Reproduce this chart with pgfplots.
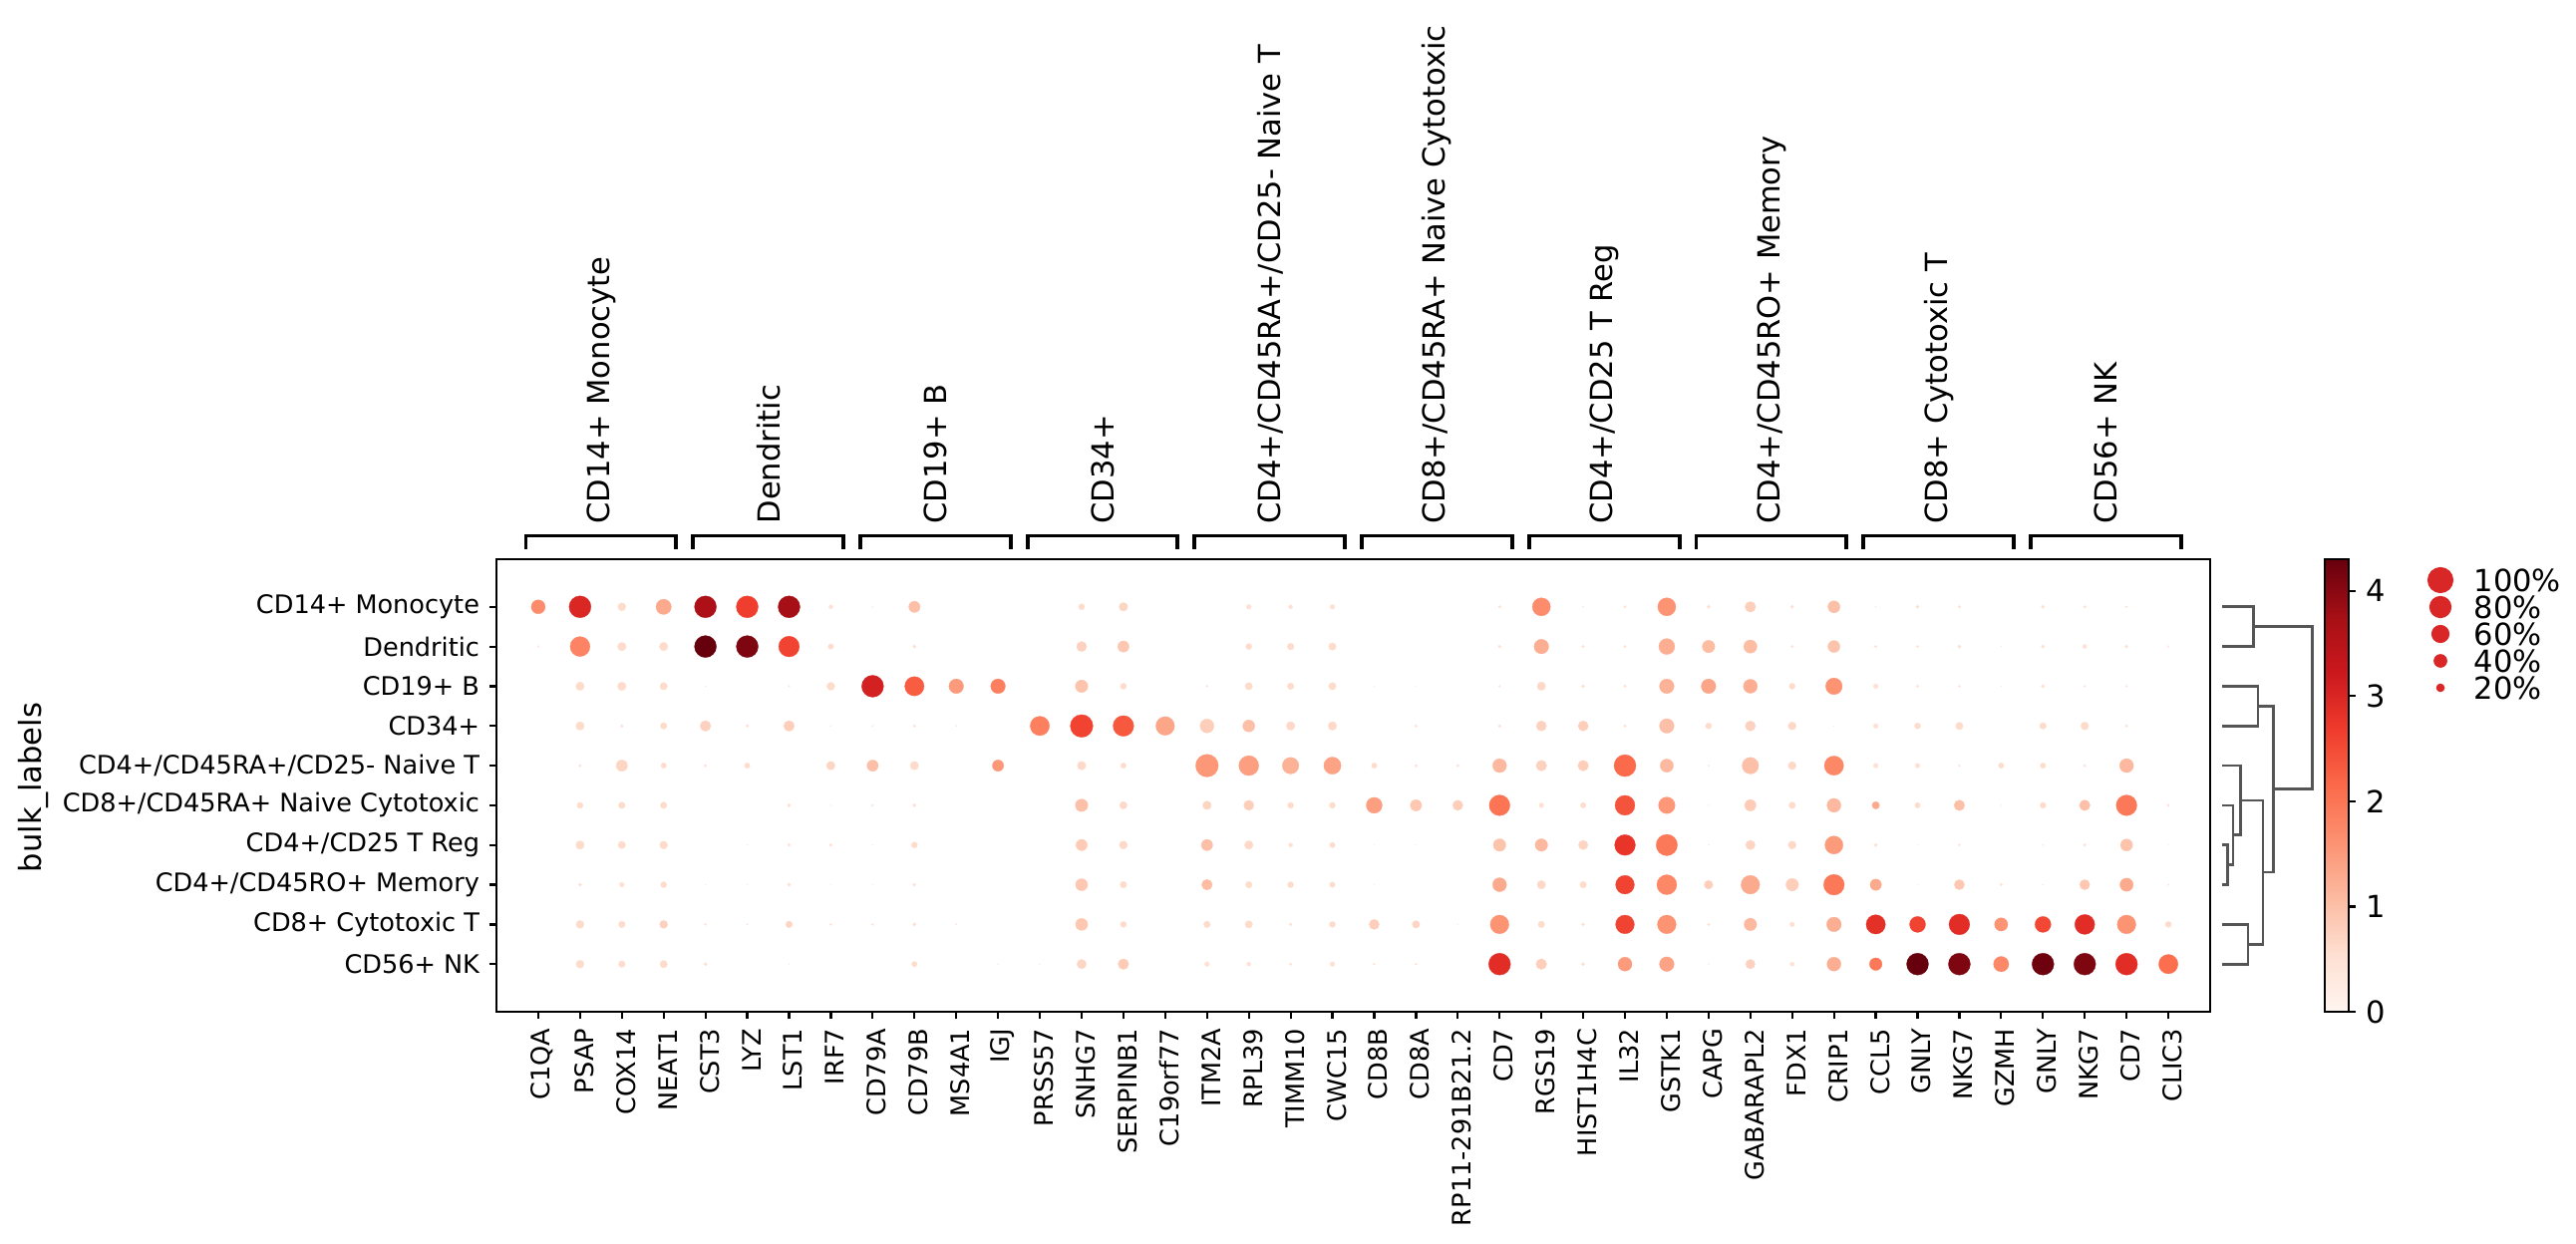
\documentclass[border=0pt]{standalone}
\usepackage{fontspec}
\setmainfont{DejaVu Sans}
\usepackage{pgfplots}
\usepackage{pgfplotstable}
\pgfplotsset{compat=1.18}
\newcommand\fsmall{\fontsize{9.2bp}{11bp}\selectfont}
\newcommand\fbig{\fontsize{11bp}{13bp}\selectfont}
\definecolor{legred}{RGB}{217,38,39}
\definecolor{dendro}{RGB}{85,85,85}
\pgfplotsset{colormap={reds}{rgb255=(255,245,240) rgb255=(254,224,210) rgb255=(252,187,161) rgb255=(252,146,114) rgb255=(251,106,74) rgb255=(239,59,44) rgb255=(203,24,29) rgb255=(165,15,21) rgb255=(103,0,13)}}

% x = gene index, y = cell-type row, f = fraction of cells, m = mean expression
\pgfplotstableread{
x y f m
0 0 0.46 1.7
1 0 0.84 3.0
2 0 0.22 0.6
3 0 0.52 1.3
4 0 0.84 3.65
5 0 0.84 2.65
6 0 0.84 3.75
7 0 0.09 0.5
8 0 0.02 0.3
9 0 0.35 1.0
13 0 0.15 0.6
14 0 0.24 0.7
17 0 0.11 0.5
18 0 0.09 0.5
19 0 0.11 0.5
23 0 0.05 0.5
24 0 0.65 1.7
25 0 0.02 0.4
26 0 0.05 0.5
27 0 0.65 1.6
28 0 0.07 0.5
29 0 0.32 0.8
30 0 0.07 0.5
31 0 0.38 1.0
32 0 0.02 0.4
33 0 0.07 0.5
34 0 0.05 0.5
36 0 0.07 0.5
37 0 0.05 0.5
38 0 0.035 0.5
0 1 0.035 0.4
1 1 0.74 1.8
2 1 0.24 0.6
3 1 0.24 0.6
4 1 0.84 4.3
5 1 0.84 4.1
6 1 0.78 2.6
7 1 0.13 0.6
9 1 0.07 0.5
13 1 0.3 0.75
14 1 0.35 0.9
17 1 0.15 0.6
18 1 0.17 0.6
19 1 0.2 0.6
23 1 0.06 0.5
24 1 0.49 1.25
25 1 0.05 0.5
26 1 0.05 0.5
27 1 0.55 1.25
28 1 0.4 1.05
29 1 0.43 1.05
30 1 0.05 0.5
31 1 0.38 0.95
32 1 0.05 0.5
33 1 0.05 0.5
34 1 0.07 0.5
35 1 0.014 0.4
36 1 0.07 0.5
37 1 0.09 0.5
38 1 0.07 0.5
39 1 0.035 0.4
1 2 0.24 0.6
2 2 0.24 0.6
3 2 0.2 0.6
4 2 0.02 0.4
6 2 0.027 0.4
7 2 0.22 0.6
8 2 0.84 3.1
9 2 0.71 2.3
10 2 0.49 1.5
11 2 0.49 1.85
13 2 0.4 0.95
14 2 0.15 0.6
16 2 0.035 0.5
17 2 0.2 0.6
18 2 0.17 0.6
19 2 0.2 0.6
20 2 0.014 0.4
21 2 0.008 0.4
23 2 0.035 0.5
24 2 0.24 0.65
25 2 0.07 0.5
26 2 0.05 0.5
27 2 0.49 1.2
28 2 0.49 1.35
29 2 0.46 1.25
30 2 0.15 0.6
31 2 0.58 1.6
32 2 0.11 0.5
33 2 0.05 0.5
34 2 0.035 0.5
35 2 0.014 0.4
36 2 0.07 0.5
37 2 0.035 0.5
38 2 0.035 0.5
1 3 0.24 0.6
2 3 0.06 0.5
3 3 0.17 0.6
4 3 0.32 0.75
5 3 0.06 0.5
6 3 0.32 0.8
7 3 0.02 0.4
8 3 0.027 0.4
9 3 0.05 0.5
10 3 0.02 0.4
12 3 0.71 1.85
13 3 0.88 2.6
14 3 0.78 2.35
15 3 0.68 1.35
16 3 0.46 0.8
17 3 0.38 1.0
18 3 0.24 0.65
19 3 0.24 0.65
21 3 0.05 0.5
23 3 0.05 0.5
24 3 0.3 0.75
25 3 0.3 0.8
26 3 0.05 0.5
27 3 0.49 1.0
28 3 0.15 0.6
29 3 0.3 0.75
30 3 0.22 0.65
31 3 0.014 0.4
32 3 0.11 0.5
33 3 0.15 0.6
34 3 0.2 0.6
36 3 0.17 0.6
37 3 0.22 0.6
38 3 0.05 0.5
1 4 0.05 0.5
2 4 0.35 0.7
3 4 0.13 0.6
4 4 0.05 0.5
5 4 0.13 0.6
7 4 0.24 0.7
8 4 0.35 1.0
9 4 0.24 0.6
11 4 0.35 1.55
13 4 0.24 0.65
14 4 0.13 0.6
16 4 0.88 1.55
17 4 0.74 1.45
18 4 0.58 1.2
19 4 0.61 1.4
20 4 0.13 0.6
21 4 0.05 0.5
22 4 0.05 0.5
23 4 0.46 1.1
24 4 0.32 0.75
25 4 0.32 0.8
26 4 0.84 2.15
27 4 0.43 1.1
28 4 0.027 0.4
29 4 0.58 1.0
30 4 0.22 0.65
31 4 0.71 1.75
32 4 0.11 0.5
33 4 0.11 0.5
34 4 0.035 0.5
35 4 0.13 0.6
36 4 0.13 0.6
37 4 0.05 0.5
38 4 0.46 1.1
1 5 0.15 0.6
2 5 0.17 0.6
3 5 0.17 0.6
6 5 0.07 0.5
7 5 0.014 0.4
8 5 0.035 0.5
9 5 0.07 0.5
13 5 0.4 1.0
14 5 0.2 0.65
16 5 0.24 0.7
17 5 0.3 0.8
18 5 0.15 0.6
19 5 0.15 0.6
20 5 0.55 1.45
21 5 0.35 0.9
22 5 0.3 0.8
23 5 0.78 2.0
24 5 0.11 0.5
25 5 0.13 0.6
26 5 0.74 2.4
27 5 0.58 1.55
28 5 0.014 0.4
29 5 0.35 0.85
30 5 0.17 0.6
31 5 0.46 1.1
32 5 0.2 1.3
33 5 0.13 0.6
34 5 0.32 1.0
35 5 0.014 0.4
36 5 0.15 0.6
37 5 0.32 1.0
38 5 0.78 1.95
39 5 0.05 0.5
1 6 0.24 0.6
2 6 0.2 0.6
3 6 0.22 0.6
5 6 0.014 0.4
6 6 0.05 0.5
7 6 0.06 0.5
8 6 0.014 0.4
9 6 0.15 0.6
13 6 0.35 0.85
14 6 0.22 0.65
16 6 0.35 1.0
17 6 0.24 0.65
18 6 0.09 0.5
19 6 0.13 0.6
20 6 0.008 0.4
21 6 0.014 0.4
23 6 0.4 0.95
24 6 0.4 1.1
25 6 0.27 0.7
26 6 0.78 2.8
27 6 0.81 1.95
28 6 0.02 0.4
29 6 0.27 0.7
30 6 0.22 0.65
31 6 0.65 1.5
32 6 0.07 0.5
33 6 0.014 0.4
34 6 0.035 0.5
36 6 0.02 0.4
37 6 0.05 0.5
38 6 0.38 0.95
39 6 0.008 0.4
1 7 0.07 0.5
2 7 0.11 0.5
3 7 0.15 0.6
4 7 0.014 0.4
5 7 0.008 0.4
6 7 0.07 0.5
7 7 0.008 0.4
8 7 0.008 0.4
9 7 0.06 0.5
13 7 0.38 0.9
14 7 0.17 0.6
16 7 0.32 1.05
17 7 0.17 0.6
18 7 0.15 0.6
19 7 0.13 0.6
20 7 0.008 0.4
23 7 0.46 1.3
24 7 0.24 0.65
25 7 0.17 0.6
26 7 0.68 2.6
27 7 0.74 1.75
28 7 0.24 0.8
29 7 0.68 1.3
30 7 0.4 0.8
31 7 0.78 1.95
32 7 0.35 1.3
33 7 0.014 0.4
34 7 0.3 0.9
35 7 0.05 0.5
36 7 0.02 0.4
37 7 0.3 0.9
38 7 0.43 1.3
39 7 0.027 0.4
1 8 0.22 0.6
2 8 0.17 0.6
3 8 0.22 0.75
4 8 0.035 0.5
5 8 0.027 0.4
6 8 0.17 0.7
7 8 0.035 0.5
8 8 0.035 0.5
9 8 0.07 0.5
10 8 0.027 0.4
13 8 0.38 0.9
14 8 0.15 0.6
16 8 0.17 0.6
17 8 0.2 0.6
18 8 0.06 0.5
19 8 0.15 0.6
20 8 0.3 0.8
21 8 0.2 0.7
22 8 0.014 0.4
23 8 0.68 1.6
24 8 0.17 0.6
25 8 0.07 0.5
26 8 0.68 2.6
27 8 0.68 1.6
28 8 0.05 0.5
29 8 0.4 1.1
30 8 0.11 0.5
31 8 0.49 1.25
32 8 0.71 2.85
33 8 0.55 2.6
34 8 0.78 2.9
35 8 0.43 1.6
36 8 0.55 2.55
37 8 0.74 2.9
38 8 0.68 1.6
39 8 0.15 0.6
1 9 0.22 0.6
2 9 0.17 0.6
3 9 0.2 0.6
4 9 0.07 0.5
6 9 0.014 0.4
9 9 0.13 0.6
11 9 0.014 0.4
12 9 0.014 0.4
13 9 0.27 0.7
14 9 0.32 0.85
16 9 0.11 0.5
17 9 0.09 0.5
18 9 0.05 0.5
19 9 0.11 0.5
20 9 0.035 0.5
21 9 0.035 0.5
23 9 0.84 2.9
24 9 0.32 0.8
25 9 0.07 0.5
26 9 0.46 1.5
27 9 0.49 1.4
28 9 0.014 0.4
29 9 0.27 0.75
30 9 0.09 0.5
31 9 0.46 1.25
32 9 0.4 1.95
33 9 0.84 4.3
34 9 0.84 4.1
35 9 0.52 1.75
36 9 0.84 4.25
37 9 0.84 4.1
38 9 0.84 2.9
39 9 0.71 2.1
}\dots

\begin{document}
\begin{tikzpicture}
\useasboundingbox (0,0) rectangle (930.24bp,449.28bp);

% ---------- main dot plot ----------
\begin{axis}[
  name=main,
  at={(179.28bp,83.88bp)}, anchor=south west,
  scale only axis, width=618.84bp, height=163.44bp,
  xmin=-1, xmax=40, ymin=-1.2, ymax=10.2, y dir=reverse,
  xtick={0,...,39},
  xticklabels={C1QA,PSAP,COX14,NEAT1,CST3,LYZ,LST1,IRF7,CD79A,CD79B,MS4A1,IGJ,PRSS57,SNHG7,SERPINB1,C19orf77,ITM2A,RPL39,TIMM10,CWC15,CD8B,CD8A,RP11-291B21.2,CD7,RGS19,HIST1H4C,IL32,GSTK1,CAPG,GABARAPL2,FDX1,CRIP1,CCL5,GNLY,NKG7,GZMH,GNLY,NKG7,CD7,CLIC3},
  ytick={0,...,9},
  yticklabels={CD14+ Monocyte,Dendritic,CD19+ B,CD34+,CD4+/CD45RA+/CD25- Naive T,CD8+/CD45RA+ Naive Cytotoxic,CD4+/CD25 T Reg,CD4+/CD45RO+ Memory,CD8+ Cytotoxic T,CD56+ NK},
  xtick pos=left, ytick pos=left, tick align=outside,
  major tick length=2.6bp,
  xticklabel style={rotate=90, anchor=east, font=\fsmall, xshift=0bp, yshift=-1.5bp},
  yticklabel style={font=\fsmall},
  axis line style={line width=0.8bp},
  every tick/.style={black, line width=0.8bp},
  colormap name=reds, point meta min=0, point meta max=4.3,
  colorbar,
  colorbar shift/.style={xshift=41.4bp},
  colorbar style={
    at={(parent axis.north east)}, anchor=north west,
    scale only axis, width=8.64bp, height=163.44bp,
    ytick={0,1,2,3,4}, ytick pos=right, yticklabel pos=right,
    tick align=outside, major tick length=2.6bp,
    yticklabel style={font=\fbig},
    /pgf/number format/assume math mode=true,
    axis line style={line width=0.8bp},
    every tick/.style={black, line width=0.8bp},
  },
  clip=false,
]
\addplot[scatter, only marks, mark=*,
  scatter src=explicit,
  scatter/use mapped color={draw=mapped color, fill=mapped color},
  visualization depends on={4.52*(\thisrow{f})^0.75 \as \perpointmarksize},
  scatter/@pre marker code/.append style={/tikz/mark size=\perpointmarksize},
  mark options={line width=0.1pt}]
  table[x=x, y=y, meta=m] {\dots};
\end{axis}

% ---------- overlay in pixel units: brackets, group labels, dendrogram, size legend ----------
\begin{axis}[
  at={(0,0)}, anchor=south west,
  scale only axis, width=930.24bp, height=449.28bp,
  xmin=0, xmax=2584, ymin=0, ymax=1248, y dir=reverse,
  hide axis, clip=false,
]
% group brackets
\addplot[black, line width=1.4bp] coordinates {(527.5,551) (527.5,537.5) (678.3,537.5) (678.3,551)};
\addplot[black, line width=1.4bp] coordinates {(695.2,551) (695.2,537.5) (846.0,537.5) (846.0,551)};
\addplot[black, line width=1.4bp] coordinates {(862.9,551) (862.9,537.5) (1013.7,537.5) (1013.7,551)};
\addplot[black, line width=1.4bp] coordinates {(1030.7,551) (1030.7,537.5) (1181.4,537.5) (1181.4,551)};
\addplot[black, line width=1.4bp] coordinates {(1198.4,551) (1198.4,537.5) (1349.2,537.5) (1349.2,551)};
\addplot[black, line width=1.4bp] coordinates {(1366.1,551) (1366.1,537.5) (1516.9,537.5) (1516.9,551)};
\addplot[black, line width=1.4bp] coordinates {(1533.8,551) (1533.8,537.5) (1684.6,537.5) (1684.6,551)};
\addplot[black, line width=1.4bp] coordinates {(1701.5,551) (1701.5,537.5) (1852.3,537.5) (1852.3,551)};
\addplot[black, line width=1.4bp] coordinates {(1869.3,551) (1869.3,537.5) (2020.0,537.5) (2020.0,551)};
\addplot[black, line width=1.4bp] coordinates {(2037.0,551) (2037.0,537.5) (2187.7,537.5) (2187.7,551)};
% group labels
\begin{scope}[every node/.style={rotate=90, anchor=west, inner sep=0pt, font=\fbig}]
\node at (axis cs:602.9,526) {CD14+ Monocyte};
\node at (axis cs:770.6,526) {Dendritic};
\node at (axis cs:938.3,526) {CD19+ B};
\node at (axis cs:1106.1,526) {CD34+};
\node at (axis cs:1273.8,526) {CD4+/CD45RA+/CD25- Naive T};
\node at (axis cs:1441.5,526) {CD8+/CD45RA+ Naive Cytotoxic};
\node at (axis cs:1609.2,526) {CD4+/CD25 T Reg};
\node at (axis cs:1776.9,526) {CD4+/CD45RO+ Memory};
\node at (axis cs:1944.7,526) {CD8+ Cytotoxic T};
\node at (axis cs:2112.4,526) {CD56+ NK};
\end{scope}
% y axis title
\node[rotate=90, font=\fbig, inner sep=0pt] at (axis cs:33,790) {bulk\_labels};
% dendrogram
\addplot[dendro, line width=1bp] coordinates {(2229.3,608.8) (2260.3,608.8) (2260.3,648.6) (2229.3,648.6)};
\addplot[dendro, line width=1bp] coordinates {(2229.3,688.4) (2265,688.4) (2265,728.3) (2229.3,728.3)};
\addplot[dendro, line width=1bp] coordinates {(2229.3,847.7) (2234.3,847.7) (2234.3,887.5) (2229.3,887.5)};
\addplot[dendro, line width=1bp] coordinates {(2229.3,807.9) (2240,807.9) (2240,867.6) (2234.3,867.6)};
\addplot[dendro, line width=1bp] coordinates {(2229.3,768.1) (2247.7,768.1) (2247.7,837.8) (2240,837.8)};
\addplot[dendro, line width=1bp] coordinates {(2229.3,927.4) (2255,927.4) (2255,967.2) (2229.3,967.2)};
\addplot[dendro, line width=1bp] coordinates {(2247.7,802.9) (2270,802.9) (2270,947.3) (2255,947.3)};
\addplot[dendro, line width=1bp] coordinates {(2265,708.4) (2280.7,708.4) (2280.7,875.1) (2270,875.1)};
\addplot[dendro, line width=1bp] coordinates {(2260.3,628.7) (2319.3,628.7) (2319.3,791.7) (2280.7,791.7)};
% size legend
\addplot[only marks, mark=*, legred, mark size=4.52pt] coordinates {(2448,582)};
\addplot[only marks, mark=*, legred, mark size=3.82pt] coordinates {(2448,609)};
\addplot[only marks, mark=*, legred, mark size=3.08pt] coordinates {(2448,636)};
\addplot[only marks, mark=*, legred, mark size=2.27pt] coordinates {(2448,663)};
\addplot[only marks, mark=*, legred, mark size=1.35pt] coordinates {(2448,690)};
\begin{scope}[every node/.style={anchor=west, inner sep=0pt, font=\fbig}]
\node at (axis cs:2481,582) {100\%};
\node at (axis cs:2481,609) {80\%};
\node at (axis cs:2481,636) {60\%};
\node at (axis cs:2481,663) {40\%};
\node at (axis cs:2481,690) {20\%};
\end{scope}
\end{axis}
\end{tikzpicture}
\end{document}
